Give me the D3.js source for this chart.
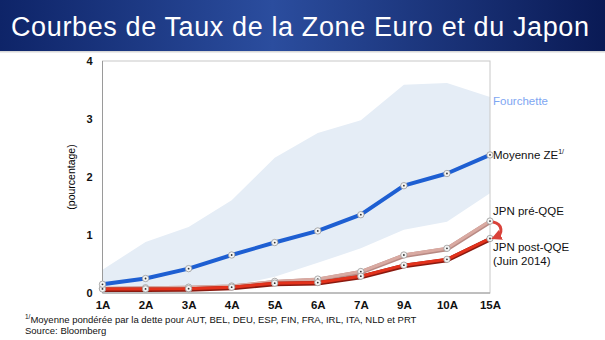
<!DOCTYPE html>
<html>
<head>
<meta charset="utf-8">
<script src="https://cdn.jsdelivr.net/npm/d3@7"></script>
<style>
  body { margin: 0; background: #fff; }
  svg { display: block; font-family: "Liberation Sans", Arial, sans-serif; }
</style>
</head>
<body>
<script>
// maturities
var maturities = ["1A", "2A", "3A", "4A", "5A", "6A", "7A", "9A", "10A", "15A"];
// euro area average (debt weighted)
var moyenneZE = [0.15, 0.25, 0.42, 0.655, 0.87, 1.07, 1.35, 1.85, 2.06, 2.38];
// japan before / after QQE
var jpnPre = [0.08, 0.09, 0.10, 0.12, 0.20, 0.24, 0.37, 0.655, 0.77, 1.24];
var jpnPost = [0.07, 0.07, 0.075, 0.10, 0.17, 0.18, 0.29, 0.48, 0.58, 0.94];
// range across countries
var rangeLow = [0.0, 0.04, 0.07, 0.12, 0.28, 0.52, 0.77, 1.09, 1.23, 1.72];
var rangeHigh = [0.4, 0.88, 1.14, 1.6, 2.33, 2.76, 2.98, 3.59, 3.62, 3.38];
var yTicks = [0, 1, 2, 3, 4];

var W = 605, H = 340;
var svg = d3.select("body").append("svg").attr("width", W).attr("height", H);

// title bar
var defs = svg.append("defs");
var grad = defs.append("linearGradient").attr("id", "bar");
grad.append("stop").attr("offset", "0%").attr("stop-color", "#0e2468");
grad.append("stop").attr("offset", "45%").attr("stop-color", "#2b4d9e");
grad.append("stop").attr("offset", "100%").attr("stop-color", "#0a1a55");
svg.append("rect").attr("width", W).attr("height", 51).attr("fill", "url(#bar)");
svg.append("rect").attr("y", 51).attr("width", W).attr("height", 1.5).attr("fill", "#d8d8d8");
svg.append("text")
  .attr("x", 11).attr("y", 36)
  .attr("fill", "#fff")
  .style("font-size", "27px")
  .attr("textLength", 578)
  .text("Courbes de Taux de la Zone Euro et du Japon");

var x0 = 102.5, x1 = 490, yTop = 61, yBot = 293;
var x = d3.scalePoint().domain(maturities).range([x0, x1]);
var y = d3.scaleLinear().domain([0, 4]).range([yBot, yTop]);

var g = svg.append("g");

// band
var band = maturities.map(function(m, i) { return {m: m, lo: rangeLow[i], hi: rangeHigh[i]}; });
g.append("path")
  .datum(band)
  .attr("fill", "#e5edf6")
  .attr("d", d3.area().x(d => x(d.m)).y0(d => y(d.lo)).y1(d => y(d.hi)));

// frame
g.append("rect")
  .attr("x", x0).attr("y", yTop)
  .attr("width", x1 - x0).attr("height", yBot - yTop)
  .attr("fill", "none").attr("stroke", "#c8c8c8").attr("stroke-width", 1);
g.append("line").attr("x1", x0).attr("x2", x0).attr("y1", yTop).attr("y2", yBot)
  .attr("stroke", "#9a9a9a");
g.append("line").attr("x1", x0).attr("x2", x1).attr("y1", yBot).attr("y2", yBot)
  .attr("stroke", "#9a9a9a");

// y axis
var yAxis = g.append("g")
  .attr("transform", "translate(" + x0 + ",0)")
  .call(d3.axisLeft(y).tickValues(yTicks).tickFormat(d3.format("d")).tickSize(0).tickPadding(10));
yAxis.select(".domain").remove();
yAxis.selectAll("text").style("font-size", "11px").style("font-weight", "bold").attr("fill", "#111");

// x axis
var xAxis = g.append("g")
  .attr("transform", "translate(0," + yBot + ")")
  .call(d3.axisBottom(x).tickSize(0).tickPadding(8));
xAxis.select(".domain").remove();
xAxis.selectAll("text").style("font-size", "11.5px").style("font-weight", "bold").attr("fill", "#111");

svg.append("text")
  .attr("transform", "translate(75," + ((yTop + yBot) / 2) + ") rotate(-90)")
  .attr("text-anchor", "middle")
  .style("font-size", "10.5px")
  .text("(pourcentage)");

function drawSeries(vals, color, width, shadow) {
  var pts = maturities.map(function(m, i) { return {m: m, v: vals[i]}; });
  var line = d3.line().x(d => x(d.m)).y(d => y(d.v));
  if (shadow) {
    g.append("path").datum(pts).attr("fill", "none")
      .attr("stroke", shadow).attr("stroke-width", width + 1.5)
      .attr("transform", "translate(0,0.8)")
      .attr("d", line);
  }
  g.append("path").datum(pts).attr("fill", "none")
    .attr("stroke", color).attr("stroke-width", width)
    .attr("stroke-linejoin", "round")
    .attr("d", line);
  var mk = g.append("g").selectAll("g").data(pts).join("g")
    .attr("transform", d => "translate(" + x(d.m) + "," + y(d.v) + ")");
  mk.append("circle").attr("r", 3.2).attr("fill", "#f4f4f4").attr("stroke", "#999").attr("stroke-width", 0.8);
  mk.append("circle").attr("r", 0.9).attr("fill", "#333");
}

drawSeries(jpnPre, "#d9aaa2", 3, "#b88a84");
drawSeries(jpnPost, "#e3321c", 3, "#8a1a10");
drawSeries(moyenneZE, "#1e5fd2", 4, null);

// labels on the right
var lx = 493;
svg.append("text").attr("x", lx).attr("y", 105).attr("fill", "#7ea6f2")
  .style("font-size", "11.5px").text("Fourchette");
var mz = svg.append("text").attr("x", lx).attr("y", y(moyenneZE[9]) + 4).attr("fill", "#111")
  .style("font-size", "11.5px").text("Moyenne ZE");
mz.append("tspan").attr("dy", -5).style("font-size", "7px").text("1/");
svg.append("text").attr("x", lx).attr("y", 215).attr("fill", "#111")
  .style("font-size", "11.5px").text("JPN pré-QQE");
svg.append("text").attr("x", lx).attr("y", 251).attr("fill", "#111")
  .style("font-size", "11.5px").text("JPN post-QQE");
svg.append("text").attr("x", lx).attr("y", 265).attr("fill", "#111")
  .style("font-size", "11.5px").text("(Juin 2014)");

// curved arrow from pre to post
svg.append("defs").append("marker")
  .attr("id", "ah").attr("viewBox", "0 0 10 10").attr("refX", 5).attr("refY", 5)
  .attr("markerWidth", 3.5).attr("markerHeight", 3.5).attr("orient", "auto")
  .append("path").attr("d", "M0,0L10,5L0,10z").attr("fill", "#d9423a");
svg.append("path")
  .attr("d", "M493,222 C503,224 503,234 496,237")
  .attr("fill", "none").attr("stroke", "#d9423a").attr("stroke-width", 3)
  .attr("marker-end", "url(#ah)");

// footnote
var fn = svg.append("text").attr("x", 25).attr("y", 323).attr("fill", "#111").style("font-size", "9.5px");
fn.append("tspan").attr("dy", -4).style("font-size", "6.5px").text("1/");
fn.append("tspan").attr("dy", 4).text("Moyenne pondérée par la dette pour AUT, BEL, DEU, ESP, FIN, FRA, IRL, ITA, NLD et PRT");
svg.append("text").attr("x", 25).attr("y", 334).attr("fill", "#111").style("font-size", "9.5px")
  .text("Source: Bloomberg");
</script>
</body>
</html>
